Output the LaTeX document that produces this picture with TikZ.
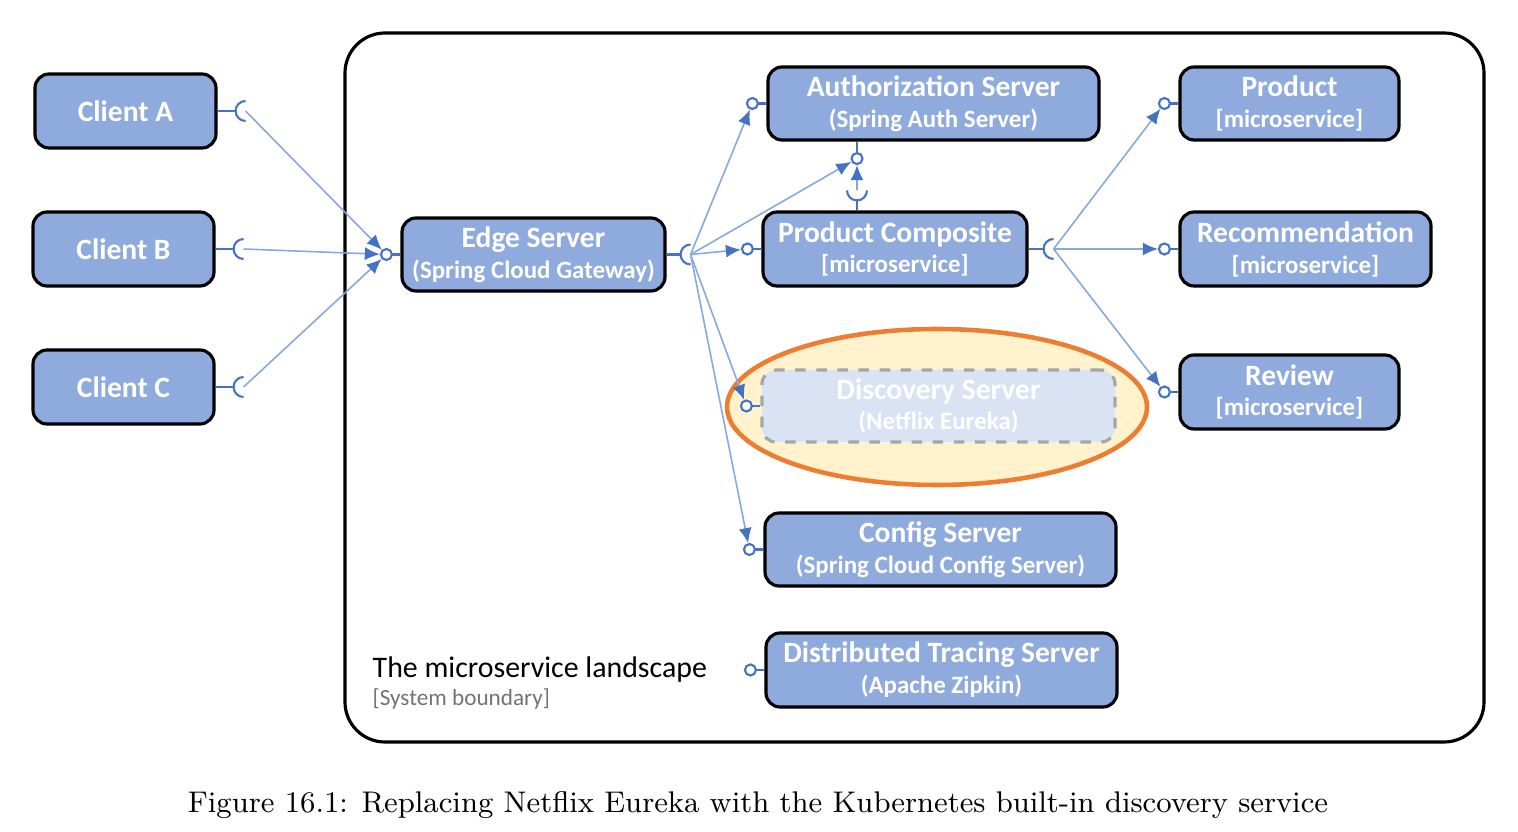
\documentclass[tikz,border=0pt]{standalone}
\usepackage{fontspec}
\newfontfamily\boxfont{Carlito}
\usetikzlibrary{arrows.meta, shapes.geometric, positioning, calc}

\definecolor{boxblue}{HTML}{8FAADC}
\definecolor{ifblue}{HTML}{4472C4}
\definecolor{lineblue}{HTML}{86A8E0}
\definecolor{ghostblue}{HTML}{DAE3F3}
\definecolor{ghostline}{HTML}{A6A6A6}
\definecolor{eurekafill}{HTML}{FFF2CC}
\definecolor{eurekaline}{HTML}{ED7D31}

\newcommand{\svcname}[1]{{\fontsize{8.4}{8.8}\selectfont #1}}
\newcommand{\svcnote}[1]{{\fontsize{7.1}{8.8}\selectfont #1}}

\tikzset{
  svc/.style={draw=black, line width=0.9pt, fill=boxblue, rounded corners=4pt, text=white,
    inner sep=0pt, align=center, font=\boxfont\bfseries\fontsize{8.4}{8.8}\selectfont},
  ghost/.style={svc, draw=ghostline, fill=ghostblue, dashed},
  lolli/.style={draw=ifblue, line width=0.6pt, circle, fill=white, inner sep=0pt, minimum size=0.11cm},
  stem/.style={ifblue, line width=0.6pt},
  link/.style={lineblue, line width=0.45pt, -{Latex[length=1.5mm, width=1.3mm, color=ifblue]}},
  socket/.pic={\draw[stem] (0,0.1) arc[start angle=90, end angle=270, radius=0.1];}
}

\begin{document}
\begin{tikzpicture}
  \useasboundingbox (0,0) rectangle (15.18,8.31);

  \node[draw=black, line width=0.9pt, rounded corners=0.4cm, minimum width=11.39cm, minimum height=7.09cm]
    (landscape) at (9.145,4.435) {};
  \node[anchor=base west, inner sep=0pt, font=\boxfont, text=black] (ltitle) at (3.72,1.53)
    {\fontsize{8.5}{9}\selectfont The microservice landscape};
  \node[anchor=base west, inner sep=0pt, font=\boxfont, text=black!55] (lnote) at (3.72,1.26)
    {\fontsize{6.6}{7}\selectfont [System boundary]};

  \node[ellipse, draw=eurekaline, line width=1.3pt, fill=eurekafill, minimum width=4.2cm, minimum height=1.56cm]
    (eureka) at (9.37,4.24) {};

  \node[svc, minimum width=1.81cm, minimum height=0.74cm] (cA) at (1.255,7.20) {\svcname{Client A}};
  \node[svc, minimum width=1.81cm, minimum height=0.74cm] (cB) at (1.235,5.82) {\svcname{Client B}};
  \node[svc, minimum width=1.81cm, minimum height=0.74cm] (cC) at (1.235,4.44) {\svcname{Client C}};

  \node[svc, minimum width=2.63cm, minimum height=0.73cm] (edge) at (5.335,5.765)
    {\svcname{Edge Server}\\\svcnote{(Spring Cloud Gateway)}};
  \node[svc, minimum width=3.31cm, minimum height=0.73cm] (auth) at (9.335,7.275)
    {\svcname{Authorization Server}\\\svcnote{(Spring Auth Server)}};
  \node[svc, minimum width=2.64cm, minimum height=0.74cm] (pc) at (8.95,5.82)
    {\svcname{Product Composite}\\\svcnote{[microservice]}};
  \node[svc, minimum width=2.19cm, minimum height=0.73cm] (prod) at (12.895,7.275)
    {\svcname{Product}\\\svcnote{[microservice]}};
  \node[svc, minimum width=2.51cm, minimum height=0.74cm] (rec) at (13.055,5.82)
    {\svcname{Recommendation}\\\svcnote{[microservice]}};
  \node[svc, minimum width=2.19cm, minimum height=0.74cm] (rev) at (12.895,4.39)
    {\svcname{Review}\\\svcnote{[microservice]}};
  \node[ghost, minimum width=3.53cm, minimum height=0.72cm] (disc) at (9.385,4.25)
    {\svcname{Discovery Server}\\\svcnote{(Netflix Eureka)}};
  \node[svc, minimum width=3.51cm, minimum height=0.73cm] (conf) at (9.405,2.815)
    {\svcname{Config Server}\\\svcnote{(Spring Cloud Config Server)}};
  \node[svc, minimum width=3.51cm, minimum height=0.74cm] (zipkin) at (9.415,1.61)
    {\svcname{Distributed Tracing Server}\\\svcnote{(Apache Zipkin)}};

  \foreach \b in {edge, auth, pc, prod, rec, rev, disc, conf, zipkin} {
    \draw[stem] (\b.west) -- ++(-0.09,0);
    \node[lolli] (\b In) at ($(\b.west)+(-0.14,0)$) {};
  }
  \draw[stem] (auth.south) ++(-0.765,0) -- ++(0,-0.12);
  \node[lolli] (authLow) at ($(auth.south)+(-0.765,-0.17)$) {};

  \foreach \c in {cA, cB, cC} {
    \draw[stem] (\c.east) -- ++(0.18,0);
    \coordinate (\c Out) at ($(\c.east)+(0.28,0)$);
    \pic at (\c Out) {socket};
  }
  \draw[stem] (edge.east) -- ++(0.14,0);
  \coordinate (edgeOut) at ($(edge.east)+(0.24,0)$);
  \pic at (edgeOut) {socket};
  \draw[stem] (pc.east) -- ++(0.15,0);
  \coordinate (pcOut) at ($(pc.east)+(0.25,0)$);
  \pic at (pcOut) {socket};
  \draw[stem] (pc.north) ++(-0.38,0) -- ++(0,0.1);
  \coordinate (pcUp) at ($(pc.north)+(-0.38,0.2)$);
  \pic[rotate=90] at (pcUp) {socket};

  \foreach \c in {cA, cB, cC}
    \draw[link] (\c Out) -- (edgeIn);
  \foreach \t in {authIn, authLow, pcIn, discIn, confIn}
    \draw[link] (edgeOut) -- (\t);
  \foreach \t in {prodIn, recIn, revIn}
    \draw[link] (pcOut) -- (\t);
  \draw[link] (pcUp) -- (authLow);

  \node[anchor=base, inner sep=0pt, text=black] (caption) at (7.58,0.19)
    {\fontsize{8.5}{10}\selectfont Figure 16.1: Replacing Netflix Eureka with the Kubernetes built-in discovery service};
\end{tikzpicture}
\end{document}
